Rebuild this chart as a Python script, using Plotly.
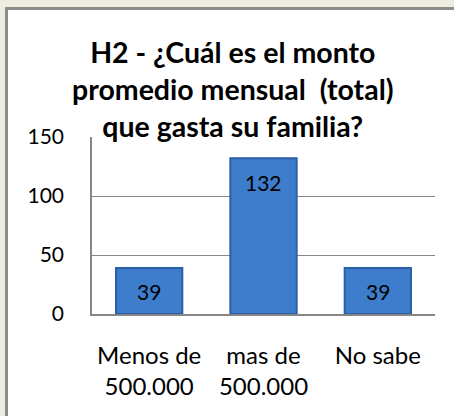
import plotly.graph_objects as go

# Survey answers: monthly family spending
categories = ["Menos de<br>500.000", "mas de<br>500.000", "No sabe"]
counts = [39, 132, 39]
y_ticks = [0, 50, 100, 150]

W, H = 454, 416
L, R, T, B = 92, 19, 137, 102
pw, ph = W - L - R, H - T - B

def px_x(px):
    return (px - L) / pw

def px_y(py):
    return (H - B - py) / ph

FONT = "Lato"

fig = go.Figure(
    go.Bar(
        x=categories,
        y=counts,
        width=0.58,
        marker=dict(color="#3D7DCB", line=dict(color="#2B5FA8", width=2)),
        hoverinfo="x+y",
    )
)

# Value labels sitting just inside the top of each bar
for cat, val in zip(categories, counts):
    fig.add_annotation(
        x=cat, y=val, text=str(val), showarrow=False,
        yanchor="middle", yshift=-24,
        font=dict(family=FONT, size=21, color="#000000"),
    )

# White chart frame on the beige page
fig.add_shape(
    type="rect", xref="paper", yref="paper", layer="below",
    x0=px_x(6.5), x1=px_x(480), y0=px_y(440), y1=px_y(8.5),
    fillcolor="#FFFFFF", line=dict(color="#8C8C8C", width=3),
)

fig.add_annotation(
    text="<b>H2 - ¿Cuál es el monto<br>promedio mensual  (total)<br>que gasta su familia?</b>",
    xref="paper", yref="paper",
    x=px_x(233), y=px_y(33), xanchor="center", yanchor="top",
    showarrow=False, align="center",
    font=dict(family=FONT, size=28.5, color="#000000"),
)

fig.update_layout(
    width=W, height=H,
    margin=dict(l=L, r=R, t=T, b=B, pad=0),
    paper_bgcolor="#EEEBE0",
    plot_bgcolor="rgba(0,0,0,0)",
    showlegend=False,
    bargap=0.42,
    xaxis=dict(
        showgrid=False, showline=True, linecolor="#868686", linewidth=1.5,
        ticks="", tickfont=dict(family=FONT, size=24, color="#000000"),
        ticklabelstandoff=19,
    ),
    yaxis=dict(
        range=[0, 150], tickvals=y_ticks, showgrid=True, gridcolor="#868686",
        gridwidth=1, showline=True, linecolor="#868686", linewidth=1.5,
        zeroline=False, ticks="", tickfont=dict(family=FONT, size=21, color="#000000"),
        ticklabelstandoff=22,
    ),
)

fig.write_html("out.html")
